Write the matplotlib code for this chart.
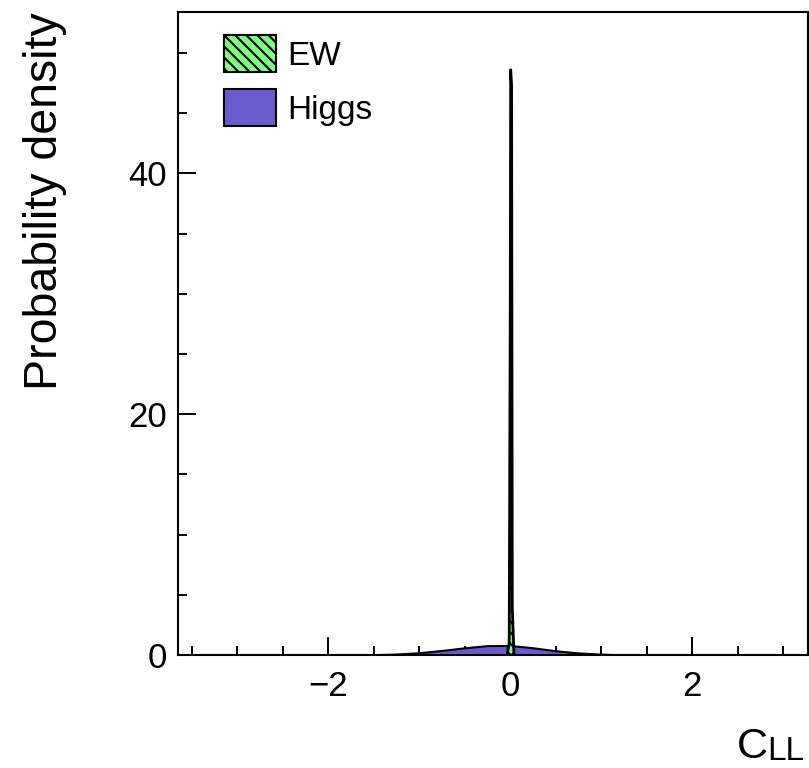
import matplotlib
matplotlib.use("Agg")
import matplotlib.pyplot as plt
from matplotlib.patches import Patch
from matplotlib.ticker import MultipleLocator

plt.rcParams['font.family'] = ['Liberation Sans', 'DejaVu Sans']
plt.rcParams['hatch.linewidth'] = 1.5

# Data
higgs_x = [-2.0, -1.75, -1.5, -1.25, -1.0, -0.75, -0.5, -0.25, 0.0, 0.25, 0.5, 0.75, 1.0, 1.25, 1.5]
higgs_y = [0.0, 0.01, 0.03, 0.08, 0.19, 0.38, 0.60, 0.78, 0.79, 0.60, 0.35, 0.17, 0.07, 0.02, 0.0]

ew_x = [-0.035, -0.012, 0.0, 0.004, 0.014, 0.022, 0.04]
ew_y = [0.0, 1.0, 30.0, 48.6, 47.3, 4.0, 0.0]

labels = ["EW", "Higgs"]
ew_color = "#7fff7f"
higgs_color = "#6a5acd"

fig = plt.figure(figsize=(8.09, 7.68), dpi=100)
ax = fig.add_axes([178/809, 1-655/768, (808-178)/809, (655-12)/768])

ax.fill_between(higgs_x, higgs_y, 0, facecolor=higgs_color, edgecolor="black", linewidth=1.5, zorder=2)
ax.fill_between(ew_x, ew_y, 0, facecolor=ew_color, edgecolor="black", hatch="\\\\\\", linewidth=2.0, zorder=3)

ax.set_xlim(-3.65, 3.27)
ax.set_ylim(0, 53.4)

ax.xaxis.set_major_locator(MultipleLocator(2))
ax.xaxis.set_minor_locator(MultipleLocator(0.5))
ax.yaxis.set_major_locator(MultipleLocator(20))
ax.yaxis.set_minor_locator(MultipleLocator(5))

ax.tick_params(which='both', direction='in', top=False, right=False, labelsize=25, width=1.4)
ax.tick_params(which='major', length=13)
ax.tick_params(axis='x', which='major', pad=11)
ax.tick_params(axis='y', which='major', pad=8)
ax.tick_params(which='minor', length=6.5)
for s in ax.spines.values():
    s.set_linewidth(1.5)

fig.text(45/809, 1-12/768, "Probability density", rotation=90, ha='center', va='top', fontsize=33.5)
fig.text(737/809, 10/768, "C", ha='left', va='baseline', fontsize=31)
fig.text(767/809, 1/768, "LL", ha='left', va='bottom', fontsize=24)

handles = [Patch(facecolor=ew_color, edgecolor="black", hatch="\\\\\\", linewidth=1.5, label=labels[0]),
           Patch(facecolor=higgs_color, edgecolor="black", linewidth=1.5, label=labels[1])]
ax.legend(handles=handles, loc='upper left', bbox_to_anchor=((224-178)/630, (655-35)/643),
          frameon=False, fontsize=24, handlelength=1.55, handleheight=1.33,
          labelspacing=0.52, handletextpad=0.36, borderpad=0, borderaxespad=0)

fig.savefig("out.png", dpi=100)
